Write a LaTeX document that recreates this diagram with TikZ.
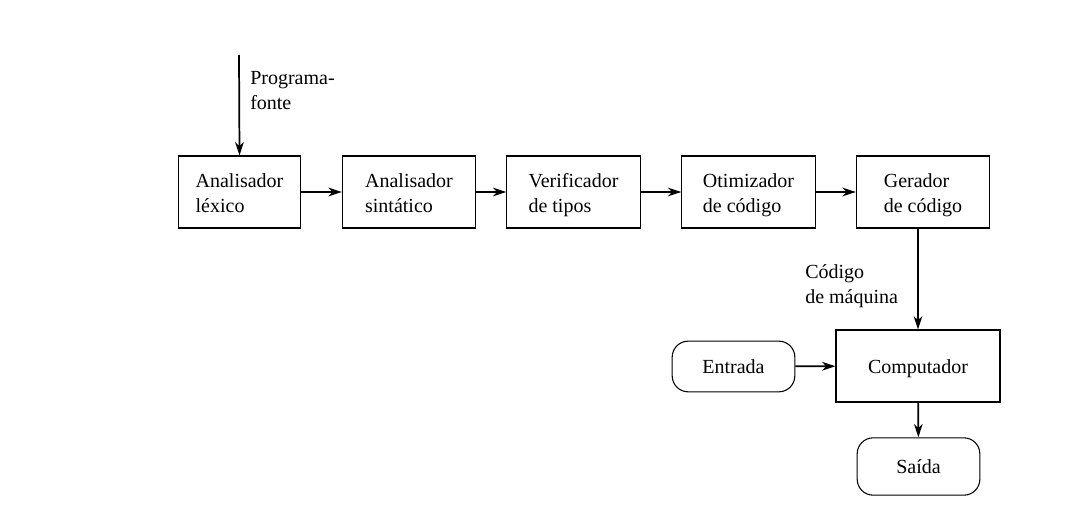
\documentclass[tikz,border=0pt]{standalone}
\usepackage{fontspec}
\setmainfont{Liberation Serif}
\usetikzlibrary{positioning,arrows.meta}
\tikzset{>={Stealth[length=10pt,width=6.5pt,inset=3pt]}}
\tikzset{
  caixa/.style={draw,line width=0.8pt,minimum height=54pt,
    font=\fontsize{15}{18.75}\selectfont},
  etapa/.style={caixa,align=left,text height=30pt,text depth=0pt},
  arred/.style={draw,line width=0.8pt,rounded corners=12pt,align=center,
    font=\fontsize{15}{18.75}\selectfont},
  rotulo/.style={align=left,inner sep=0pt,font=\fontsize{15}{18.75}\selectfont},
  seta/.style={->,line width=1.3pt}
}
\begin{document}
\begin{tikzpicture}[x=0.75pt,y=-0.75pt]
\useasboundingbox (0,0) rectangle (1084,524);
% fase de compilacao
\node[etapa,minimum width=92pt] (lex) at (239.5,192) {Analisador\\léxico};
\node[etapa,minimum width=100pt] (sin) at (409,192) {Analisador\\sintático};
\node[etapa,minimum width=100pt] (tip) at (573.5,192) {Verificador\\de tipos};
\node[etapa,minimum width=100pt] (oti) at (748.5,192) {Otimizador\\de código};
\node[etapa,minimum width=100pt] (ger) at (923,192) {Gerador\\de código};
% fase de execucao
\node[caixa,minimum width=123pt,text height=10.5pt,text depth=0pt] (comp) at (918,366) {Computador};
\node[arred,minimum width=92pt,minimum height=38pt] (ent) at (733.5,366.5) {Entrada};
\node[arred,minimum width=92pt,minimum height=43pt] (sai) at (918.5,466.5) {Saída};
% rotulos
\coordinate (fonte) at (239,55);
\node[rotulo,anchor=west] (prog) at (250,91) {Programa-\\fonte};
\node[rotulo,anchor=west] (maq) at (805,286) {Código\\de máquina};
% setas
\draw[seta] (fonte) -- (lex.north);
\draw[seta] (lex) -- (sin);
\draw[seta] (sin) -- (tip);
\draw[seta] (tip) -- (oti);
\draw[seta] (oti) -- (ger);
\draw[seta] (ger.south -| comp.north) -- (comp.north);
\draw[seta] (ent) -- (comp);
\draw[seta] (comp) -- (sai);
\end{tikzpicture}
\end{document}
